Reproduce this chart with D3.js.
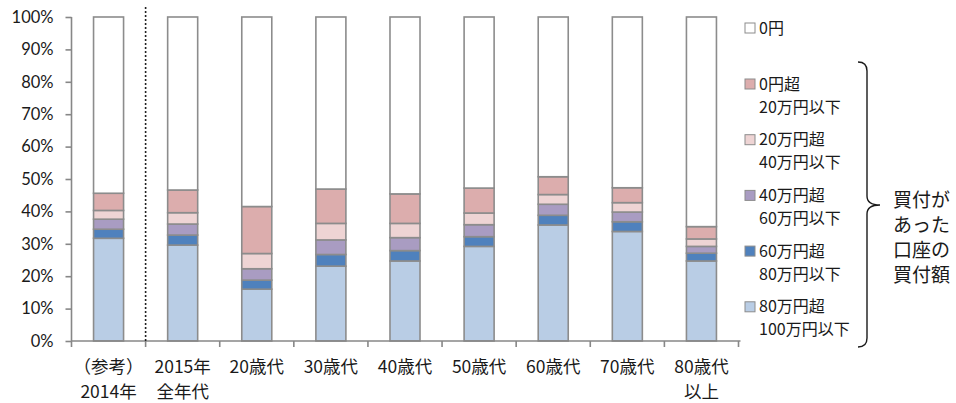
<!DOCTYPE html>
<html>
<head>
<meta charset="utf-8">
<script src="https://cdn.jsdelivr.net/npm/d3@7"></script>
<style>
  html, body { margin: 0; padding: 0; background: #fff; }
  svg { display: block; }
  text { font-family: "Noto Sans CJK JP", "Noto Sans", sans-serif; fill: #1a1a1a; }
  .pct { font-family: Lato, "Noto Sans", sans-serif; }
</style>
</head>
<body>
<svg id="chart" width="956" height="403"></svg>
<script>
// Categories (two-line labels on the x axis)
const categories = ["2014", "2015", "20s", "30s", "40s", "50s", "60s", "70s", "80s"];
const categoryLabels = [
  ["（参考）", "2014年"],
  ["2015年", "全年代"],
  ["20歳代"],
  ["30歳代"],
  ["40歳代"],
  ["50歳代"],
  ["60歳代"],
  ["70歳代"],
  ["80歳代", "以上"]
];

// Share of accounts (%) by purchase amount, stacked bottom to top
const over80to100 = [31.7, 29.6, 16.0, 23.1, 24.7, 29.2, 35.8, 33.8, 24.7];
const over60to80  = [2.8, 3.1, 2.8, 3.6, 3.2, 3.0, 3.0, 3.0, 2.4];
const over40to60  = [3.1, 3.4, 3.5, 4.5, 4.0, 3.7, 3.4, 3.0, 2.1];
const over20to40  = [2.7, 3.5, 4.7, 5.1, 4.4, 3.6, 3.0, 2.9, 2.3];
const over0to20   = [5.3, 7.0, 14.5, 10.6, 9.1, 7.7, 5.5, 4.6, 3.8];
const zeroYen     = [54.4, 53.4, 58.5, 53.1, 54.6, 52.8, 49.3, 52.7, 64.7];

const seriesKeys = ["s80", "s60", "s40", "s20", "s0", "zero"];
const seriesValues = [over80to100, over60to80, over40to60, over20to40, over0to20, zeroYen];
const seriesColors = ["#B9CDE5", "#4F81BD", "#A99CC2", "#EED4D4", "#DCADAD", "#FFFFFF"];

// Legend entries, listed top to bottom
const legendTop = { label: ["0円"], color: "#FFFFFF" };
const legendItems = [
  { label: ["0円超", "20万円以下"], color: "#DCADAD" },
  { label: ["20万円超", "40万円以下"], color: "#EED4D4" },
  { label: ["40万円超", "60万円以下"], color: "#A99CC2" },
  { label: ["60万円超", "80万円以下"], color: "#4F81BD" },
  { label: ["80万円超", "100万円以下"], color: "#B9CDE5" }
];
const braceLabel = ["買付が", "あった", "口座の", "買付額"];

const yTicks = [0, 10, 20, 30, 40, 50, 60, 70, 80, 90, 100];

// Build table rows for d3.stack
const rows = categories.map((c, i) => {
  const r = { cat: c };
  seriesKeys.forEach((k, j) => { r[k] = seriesValues[j][i]; });
  return r;
});
const stacked = d3.stack().keys(seriesKeys)(rows);

const svg = d3.select("#chart");
const plot = { left: 71.5, right: 738.5, top: 17, bottom: 341 };

const x = d3.scaleBand().domain(categories).range([plot.left, plot.right]).paddingInner(0.595).paddingOuter(0.2975);
const y = d3.scaleLinear().domain([0, 100]).range([plot.bottom, plot.top]);

const axisColor = "#878787";
const barStroke = "#8C8C8C";

// Bars
const g = svg.append("g");
stacked.forEach((layer, j) => {
  g.selectAll(null)
    .data(layer)
    .join("rect")
    .attr("x", d => x(d.data.cat))
    .attr("width", x.bandwidth())
    .attr("y", d => y(d[1]))
    .attr("height", d => y(d[0]) - y(d[1]))
    .attr("fill", seriesColors[j])
    .attr("stroke", barStroke)
    .attr("stroke-width", 1.6);
});

// Y axis
const yAxis = svg.append("g").attr("transform", `translate(${plot.left},0)`)
  .call(d3.axisLeft(y).tickValues(yTicks).tickFormat(d => d + "%").tickSize(6).tickPadding(12));
yAxis.select(".domain").attr("stroke", axisColor).attr("stroke-width", 1.6)
  .attr("d", `M0,${plot.top}V${plot.bottom + 6}`);
yAxis.selectAll(".tick line").attr("stroke", axisColor).attr("stroke-width", 1.6);
yAxis.selectAll(".tick text").attr("class", "pct").attr("font-size", 16.5).attr("fill", "#1a1a1a");

// X axis: ticks at category boundaries
const step = x.step();
const boundaries = d3.range(categories.length + 1).map(i => plot.left + i * step);
svg.append("line")
  .attr("x1", plot.left).attr("x2", plot.right + 2)
  .attr("y1", plot.bottom).attr("y2", plot.bottom)
  .attr("stroke", axisColor).attr("stroke-width", 1.6);
svg.selectAll(null).data(boundaries.slice(1)).join("line")
  .attr("x1", d => d).attr("x2", d => d)
  .attr("y1", plot.bottom).attr("y2", plot.bottom + 6)
  .attr("stroke", axisColor).attr("stroke-width", 1.6);

// Category labels
const labelG = svg.append("g");
categoryLabels.forEach((lines, i) => {
  const cx = x(categories[i]) + x.bandwidth() / 2;
  lines.forEach((t, k) => {
    labelG.append("text")
      .attr("x", cx)
      .attr("y", 367 + k * 24.5)
      .attr("dy", "0.35em")
      .attr("text-anchor", "middle")
      .attr("font-size", 17.5)
      .text(t);
  });
});

// Dotted divider between the reference year and 2015 data
svg.append("line")
  .attr("x1", boundaries[1]).attr("x2", boundaries[1])
  .attr("y1", 7).attr("y2", plot.bottom)
  .attr("stroke", "#222").attr("stroke-width", 1.6)
  .attr("stroke-dasharray", "2,2");

// Legend
const lg = svg.append("g");
const lx = 745, sw = 10;
function legendEntry(item, yTop) {
  lg.append("rect")
    .attr("x", lx).attr("y", yTop - 5).attr("width", sw).attr("height", sw)
    .attr("fill", item.color).attr("stroke", barStroke).attr("stroke-width", 1);
  item.label.forEach((t, k) => {
    lg.append("text")
      .attr("x", lx + 14).attr("y", yTop + k * 23)
      .attr("dy", "0.35em")
      .attr("font-size", 16)
      .text(t);
  });
}
legendEntry(legendTop, 28);
legendItems.forEach((item, i) => legendEntry(item, 84 + i * 55.7));

// Brace grouping the non-zero purchase bands
const bx = 858, bTop = 62, bBot = 347, bMid = 205, r = 9;
svg.append("path")
  .attr("d", `M${bx},${bTop} Q${bx + r},${bTop} ${bx + r},${bTop + r}
              V${bMid - r} Q${bx + r},${bMid} ${bx + r + 13},${bMid}
              Q${bx + r},${bMid} ${bx + r},${bMid + r}
              V${bBot - r} Q${bx + r},${bBot} ${bx},${bBot}`)
  .attr("fill", "none").attr("stroke", "#1a1a1a").attr("stroke-width", 1.4);

braceLabel.forEach((t, k) => {
  svg.append("text")
    .attr("x", 893).attr("y", 200 + k * 25)
    .attr("dy", "0.35em")
    .attr("font-size", 19)
    .text(t);
});
</script>
</body>
</html>
